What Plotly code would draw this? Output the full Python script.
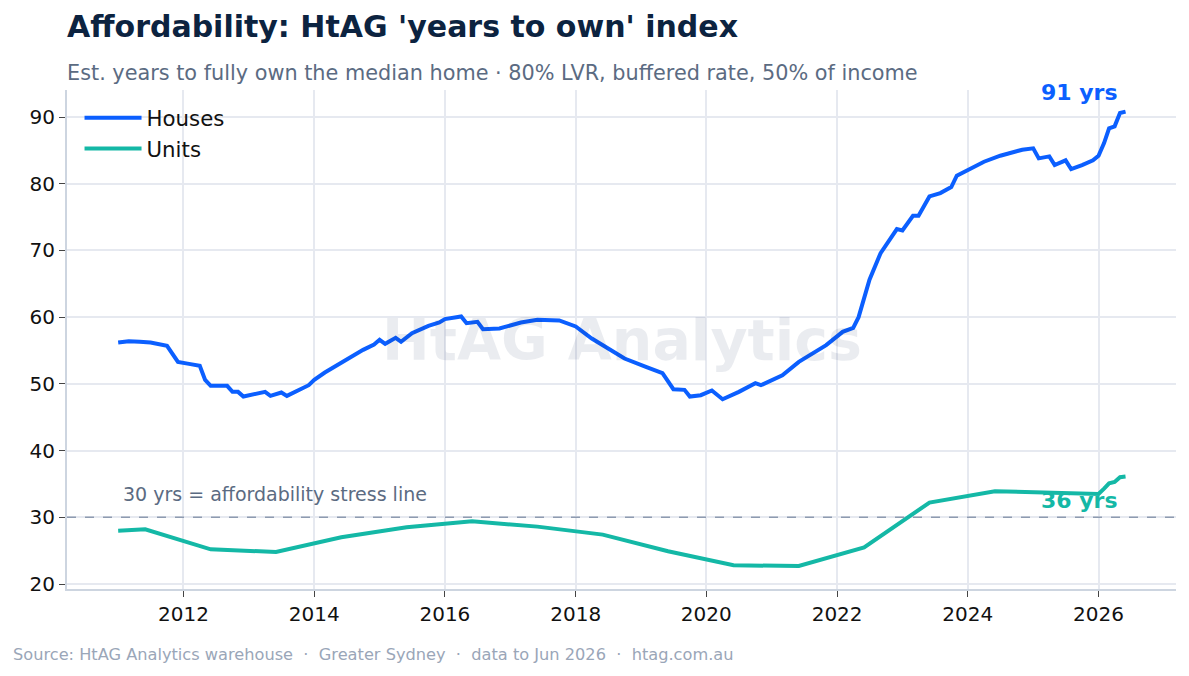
import plotly.graph_objects as go

# ---- data ----
house_dates = [
    "2011-01", "2011-03", "2011-05", "2011-07", "2011-10", "2011-12",
    "2012-02", "2012-04", "2012-05", "2012-06", "2012-09", "2012-10", "2012-11", "2012-12",
    "2013-04", "2013-05", "2013-07", "2013-08", "2013-12",
    "2014-01", "2014-03", "2014-05", "2014-10", "2014-12",
    "2015-01", "2015-02", "2015-04", "2015-05", "2015-07", "2015-10", "2015-12",
    "2016-01", "2016-04", "2016-05", "2016-07", "2016-08", "2016-11",
    "2017-03", "2017-06", "2017-10", "2018-01", "2018-04", "2018-10",
    "2019-02", "2019-05", "2019-07", "2019-09", "2019-10", "2019-12",
    "2020-02", "2020-04", "2020-07", "2020-10", "2020-11",
    "2021-03", "2021-06", "2021-11",
    "2022-02", "2022-04", "2022-05", "2022-07", "2022-09", "2022-12",
    "2023-01", "2023-03", "2023-04", "2023-06", "2023-08", "2023-10", "2023-11", "2023-12",
    "2024-04", "2024-07", "2024-09", "2024-11",
    "2025-01", "2025-02", "2025-04", "2025-05", "2025-07", "2025-08", "2025-10", "2025-12",
    "2026-01", "2026-02", "2026-03", "2026-04", "2026-05", "2026-06",
]
house_years = [
    56.2, 56.4, 56.3, 56.2, 55.7, 53.3,
    53.0, 52.7, 50.6, 49.7, 49.7, 48.8, 48.8, 48.1,
    48.8, 48.2, 48.7, 48.2, 49.8,
    50.6, 51.7, 52.7, 55.1, 55.9,
    56.6, 56.0, 56.9, 56.3, 57.6, 58.7, 59.2,
    59.7, 60.1, 59.1, 59.3, 58.2, 58.3,
    59.2, 59.6, 59.5, 58.6, 56.8, 53.8,
    52.5, 51.6, 49.2, 49.1, 48.1, 48.3,
    49.0, 47.7, 48.8, 50.1, 49.8,
    51.3, 53.3, 55.8,
    57.8, 58.4, 60.0, 65.6, 69.6, 73.2,
    73.0, 75.2, 75.2, 78.1, 78.6, 79.5, 81.2, 81.6,
    83.3, 84.2, 84.6, 85.1,
    85.3, 83.8, 84.1, 82.8, 83.5, 82.2, 82.8, 83.5,
    84.2, 86.1, 88.3, 88.6, 90.6, 90.8,
]

unit_dates = [
    "2011-01", "2011-06", "2012-06", "2013-06", "2014-06", "2015-06", "2016-06",
    "2017-06", "2018-06", "2019-06", "2020-06", "2021-06", "2022-06", "2023-06",
    "2024-06", "2026-01", "2026-02", "2026-03", "2026-04", "2026-05", "2026-06",
]
unit_years = [
    28.0, 28.2, 25.2, 24.8, 27.0, 28.5, 29.4,
    28.6, 27.4, 24.9, 22.8, 22.7, 25.5, 32.2,
    33.9, 33.5, 34.3, 35.1, 35.3, 36.0, 36.1,
]

stress_line = 30
x_ticks = ["2012", "2014", "2016", "2018", "2020", "2022", "2024", "2026"]
y_ticks = [20, 30, 40, 50, 60, 70, 80, 90]

HOUSE_C = "#0b5fff"
UNIT_C = "#14b8a6"
FONT = "DejaVu Sans"

fig = go.Figure()
fig.add_trace(go.Scatter(x=house_dates, y=house_years, mode="lines", name="Houses",
                         line=dict(color=HOUSE_C, width=4)))
fig.add_trace(go.Scatter(x=unit_dates, y=unit_years, mode="lines", name="Units",
                         line=dict(color=UNIT_C, width=4)))

fig.add_hline(y=stress_line, line=dict(color="#8e9bb0", width=1.5, dash="dash"))

annotations = [
    dict(text="Affordability: HtAG 'years to own' index", xref="paper", yref="paper",
         x=0, y=1.128, xanchor="left", yanchor="middle", xshift=-2, showarrow=False,
         font=dict(family=FONT, size=30, color="#0c2340", weight="bold")),
    dict(text="Est. years to fully own the median home · 80% LVR, buffered rate, 50% of income",
         xref="paper", yref="paper", x=0, y=1.034, xanchor="left", yanchor="middle", xshift=-2,
         showarrow=False, font=dict(family=FONT, size=20.8, color="#5b6b82")),
    dict(text="Source: HtAG Analytics warehouse  ·  Greater Sydney  ·  data to Jun 2026  ·  htag.com.au",
         xref="paper", yref="paper", x=-0.0487, y=-0.132, xanchor="left", yanchor="middle",
         xshift=-2, showarrow=False, font=dict(family=FONT, size=16.2, color="#9aa6b8")),
    dict(text="HtAG Analytics", xref="paper", yref="paper", x=0.5, y=0.5,
         xanchor="center", yanchor="middle", showarrow=False,
         font=dict(family=FONT, size=57, color="rgba(15,35,80,0.085)", weight="bold")),
    dict(text="30 yrs = affordability stress line", xref="paper", yref="y",
         x=0.0505, y=stress_line, xanchor="left", yanchor="middle", yshift=23, xshift=-2,
         showarrow=False, font=dict(family=FONT, size=19, color="#5b6b82")),
    dict(text=f"{round(house_years[-1])} yrs", x=house_dates[-1], y=house_years[-1],
         xanchor="right", yanchor="middle", xshift=-6, yshift=19, showarrow=False,
         font=dict(family=FONT, size=22, color=HOUSE_C, weight="bold")),
    dict(text=f"{round(unit_years[-1])} yrs", x=unit_dates[-1], y=unit_years[-1],
         xanchor="right", yanchor="middle", xshift=-6, yshift=-24, showarrow=False,
         font=dict(family=FONT, size=22, color=UNIT_C, weight="bold")),
]

fig.update_layout(
    width=1189, height=676,
    margin=dict(l=67, r=13, t=90, b=87),
    paper_bgcolor="white", plot_bgcolor="white",
    font=dict(family=FONT, size=20, color="#111111"),
    showlegend=True,
    legend=dict(x=0.0113, y=0.985, xanchor="left", yanchor="top", itemwidth=57,
                bgcolor="rgba(0,0,0,0)", font=dict(family=FONT, size=21.3, color="#111111")),
    annotations=annotations,
    xaxis=dict(type="date", range=["2010-03-21", "2027-03-10"],
               tickvals=[f"{t}-01-01" for t in x_ticks], ticktext=x_ticks,
               showgrid=True, gridcolor="#e6e9f0", gridwidth=1.5,
               showline=True, linecolor="#cdd5e0", linewidth=2,
               ticks="outside", ticklen=6, tickcolor="#444444", zeroline=False),
    yaxis=dict(range=[19.25, 94.05], tickvals=y_ticks,
               showgrid=True, gridcolor="#e6e9f0", gridwidth=1.5,
               showline=True, linecolor="#cdd5e0", linewidth=2,
               ticks="outside", ticklen=6, tickcolor="#444444", zeroline=False),
)

fig.write_html("out.html")
